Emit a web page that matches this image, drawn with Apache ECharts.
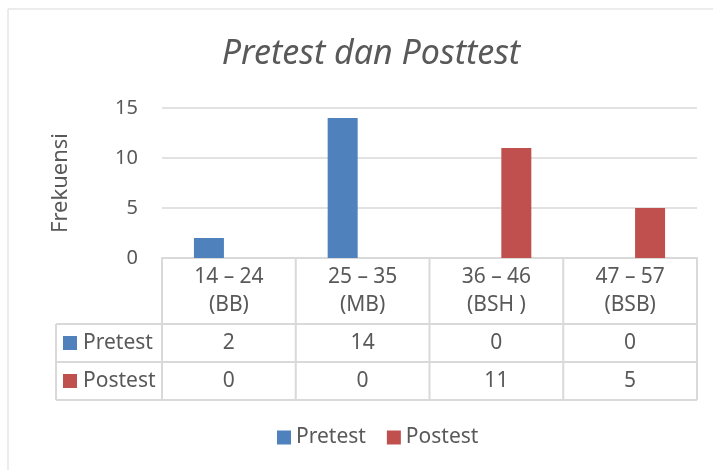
<!DOCTYPE html>
<html>
<head>
<meta charset="utf-8">
<script src="https://cdn.jsdelivr.net/npm/echarts@6/dist/echarts.min.js"></script>
<style>
  html, body { margin: 0; padding: 0; background: #fff; }
  #main { width: 713px; height: 470px; }
</style>
</head>
<body>
<div id="main"></div>
<script>
const categories = ['14 – 24\n(BB)', '25 – 35\n(MB)', '36 – 46\n(BSH )', '47 – 57\n(BSB)'];
const seriesNames = ['Pretest', 'Postest'];
const pretest = [2, 14, 0, 0];
const postest = [0, 0, 11, 5];

const colors = ['#4f81bd', '#c0504d'];
const txt = '#595959';
const lineCol = '#d9d9d9';
const font = '"Noto Sans", sans-serif';

var chart = echarts.init(document.getElementById('main'));

chart.setOption({
    color: colors,
    animation: false,
    title: {
        text: 'Pretest dan Posttest',
        left: 366,
        textAlign: 'center',
        top: 32,
        textStyle: { color: txt, fontSize: 34, fontStyle: 'italic', fontWeight: 'normal', fontFamily: font }
    },
    grid: { left: 162, right: 16, top: 108, bottom: 212 },
    legend: {
        bottom: 17,
        left: 272,
        itemWidth: 14,
        itemHeight: 14,
        itemGap: 21,
        icon: 'rect',
        textStyle: { color: txt, fontSize: 21, fontFamily: font },
        data: seriesNames
    },
    xAxis: {
        type: 'category',
        data: categories,
        axisLine: { lineStyle: { color: lineCol, width: 2 } },
        axisTick: { show: false },
        axisLabel: { color: txt, fontSize: 21, fontFamily: font, lineHeight: 28, margin: 5 }
    },
    yAxis: {
        type: 'value',
        min: 0,
        max: 15,
        interval: 5,
        name: 'Frekuensi',
        nameLocation: 'middle',
        nameGap: 90,
        nameTextStyle: { color: txt, fontSize: 22, fontFamily: font },
        axisLine: { show: false },
        axisTick: { show: false },
        axisLabel: { color: txt, fontSize: 20, fontFamily: font, margin: 24 },
        splitLine: { lineStyle: { color: lineCol, width: 1.5 } }
    },
    series: [
        { name: seriesNames[0], type: 'bar', data: pretest, barWidth: 30, barGap: '33%' },
        { name: seriesNames[1], type: 'bar', data: postest, barWidth: 30, barGap: '33%' }
    ]
});

// data table under the axis, laid out from the axis scale
function buildTable() {
    const c0 = chart.convertToPixel({ xAxisIndex: 0 }, 0);
    const c1 = chart.convertToPixel({ xAxisIndex: 0 }, 1);
    const w = c1 - c0;
    const y0 = chart.convertToPixel({ yAxisIndex: 0 }, 0);
    const left = c0 - w / 2;
    const right = left + w * categories.length;
    const headH = 66, rowH = 38, labelLeft = 56;
    const rows = [pretest, postest];
    const bottom = y0 + headH + rowH * rows.length;
    const els = [];
    const ln = (x1, y1, x2, y2) => els.push({
        type: 'line', silent: true,
        shape: { x1: x1, y1: y1, x2: x2, y2: y2 },
        style: { stroke: lineCol, lineWidth: 2 }
    });
    // outer chart frame
    els.push({ type: 'rect', silent: true, shape: { x: 8, y: 9, width: 720, height: 480 },
        style: { fill: null, stroke: lineCol, lineWidth: 1 } });
    for (let i = 0; i <= categories.length; i++) {
        ln(left + w * i, y0, left + w * i, bottom);
    }
    ln(labelLeft, y0 + headH, labelLeft, bottom);
    for (let r = 0; r <= rows.length; r++) {
        ln(labelLeft, y0 + headH + rowH * r, right, y0 + headH + rowH * r);
    }
    rows.forEach((vals, r) => {
        const cy = y0 + headH + rowH * r + rowH / 2;
        els.push({ type: 'rect', silent: true,
            shape: { x: labelLeft + 7, y: cy - 7, width: 14, height: 14 },
            style: { fill: colors[r] } });
        els.push({ type: 'text', silent: true, x: labelLeft + 27, y: cy,
            style: { text: seriesNames[r], fill: txt, font: '21px ' + font, textAlign: 'left', textVerticalAlign: 'middle' } });
        vals.forEach((v, i) => {
            els.push({ type: 'text', silent: true, x: left + w * i + w / 2, y: cy,
                style: { text: String(v), fill: txt, font: '21px ' + font, textAlign: 'center', textVerticalAlign: 'middle' } });
        });
    });
    chart.setOption({ graphic: { elements: els } });
}
buildTable();
</script>
</body>
</html>
